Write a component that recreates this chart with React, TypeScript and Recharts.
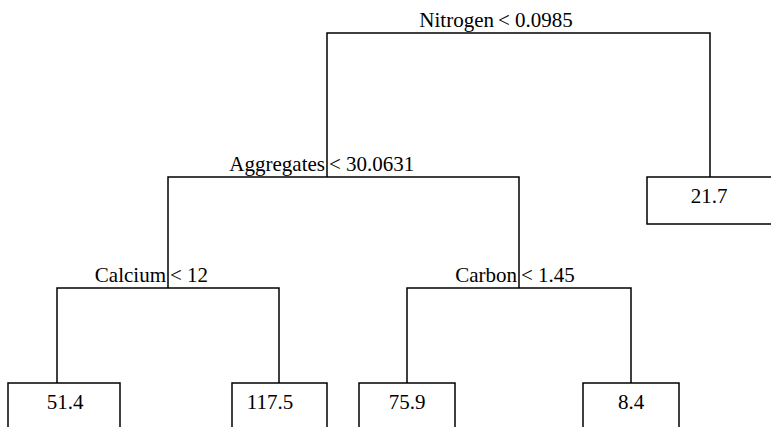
import { ComposedChart, Line, Scatter, ReferenceArea, XAxis, YAxis } from 'recharts'

// split rules, top-down
const splitVars = ['Nitrogen', 'Aggregates', 'Calcium', 'Carbon']
const splitCuts = ['< 0.0985', '< 30.0631', '< 12', '< 1.45']
// leaf predictions, left to right
const leafMeans = ['51.4', '117.5', '75.9', '8.4', '21.7']

// tree layout in plot units (x across, y down)
const splitX = [496, 327, 168, 519]
const splitY = [33, 177, 288, 288]
const splitKids = [['s1', 'l4'], ['s2', 's3'], ['l0', 'l1'], ['l2', 'l3']]
const leafX = [57, 279, 407, 631, 710]
const leafTop = [383, 383, 383, 383, 177]
const leafLeft = [8, 232, 359, 583, 647]
const leafRight = [120, 327, 455, 679, 773]
const leafTextX = [65, 270, 407, 631, 709]

const W = 771
const H = 427
const BOX_H = 47
const FONT = '"Liberation Serif", "Times New Roman", serif'
const STROKE = '#000'

function anchorOf(id: string) {
  const i = Number(id.slice(1))
  return id[0] === 's' ? { x: splitX[i], y: splitY[i] } : { x: leafX[i], y: leafTop[i] }
}

const edges = splitKids.map(([l, r], i) => {
  const a = anchorOf(l)
  const b = anchorOf(r)
  return [
    { x: a.x, y: a.y },
    { x: a.x, y: splitY[i] },
    { x: b.x, y: splitY[i] },
    { x: b.x, y: b.y },
  ]
})

const labels = [
  ...splitVars.map((v, i) => ({ x: splitX[i] - 2, y: splitY[i] - 6, text: v, anchor: 'end' })),
  ...splitCuts.map((c, i) => ({ x: splitX[i] + 2, y: splitY[i] - 6, text: c, anchor: 'start' })),
  ...leafMeans.map((m, i) => ({ x: leafTextX[i], y: leafTop[i] + 26, text: m, anchor: 'middle' })),
]

const LabelShape = (props: any) => {
  const { cx, cy, payload } = props
  return (
    <text
      x={cx}
      y={cy}
      textAnchor={payload.anchor}
      style={{ fontFamily: FONT, fontSize: 21, fill: '#000' }}
    >
      {payload.text}
    </text>
  )
}

export default function App() {
  return (
    <div>
      <style>{'body{margin:0}'}</style>
      <ComposedChart width={W} height={H} margin={{ top: 0, right: 0, bottom: 0, left: 0 }}>
        <XAxis type="number" dataKey="x" domain={[0, W]} allowDataOverflow hide />
        <YAxis type="number" dataKey="y" domain={[0, H]} reversed allowDataOverflow hide />
        {edges.map((pts, i) => (
          <Line
            key={`edge-${i}`}
            data={pts}
            dataKey="y"
            type="linear"
            stroke={STROKE}
            strokeWidth={1.5}
            dot={false}
            activeDot={false}
            isAnimationActive={false}
          />
        ))}
        {leafMeans.map((m, i) => (
          <ReferenceArea
            key={`leaf-${m}`}
            x1={leafLeft[i]}
            x2={leafRight[i]}
            y1={leafTop[i]}
            y2={leafTop[i] + BOX_H}
            fill="#fff"
            fillOpacity={1}
            stroke={STROKE}
            strokeWidth={1.5}
            ifOverflow="visible"
          />
        ))}
        <Scatter data={labels} dataKey="y" shape={LabelShape} isAnimationActive={false} />
      </ComposedChart>
    </div>
  )
}
